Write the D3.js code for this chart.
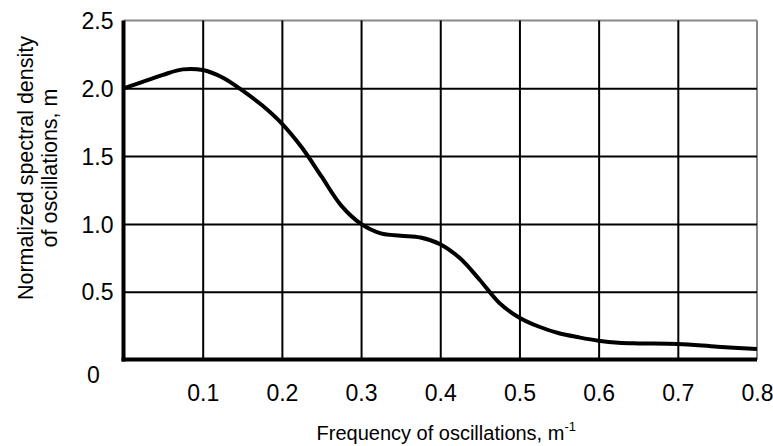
<!DOCTYPE html>
<html>
<head>
<meta charset="utf-8">
<script src="https://cdn.jsdelivr.net/npm/d3@7"></script>
<style>
  body { margin: 0; background: #fff; }
  svg text { font-family: "Liberation Sans", Arial, sans-serif; fill: #000; }
</style>
</head>
<body>
<svg id="chart" width="773" height="446"></svg>
<script>
// --- Data ---
const frequency = [0, 0.025, 0.05, 0.075, 0.1, 0.125, 0.15, 0.175, 0.2, 0.225, 0.25, 0.275,
  0.3, 0.325, 0.35, 0.375, 0.4, 0.425, 0.45, 0.475, 0.5, 0.525, 0.55, 0.575, 0.6, 0.625,
  0.65, 0.7, 0.75, 0.8];
const density = [2.0, 2.05, 2.10, 2.14, 2.135, 2.08, 1.985, 1.875, 1.74, 1.565, 1.35, 1.135,
  1.0, 0.93, 0.913, 0.90, 0.85, 0.746, 0.586, 0.414, 0.308, 0.241, 0.193, 0.163, 0.138, 0.123,
  0.118, 0.114, 0.094, 0.077];
const xTicks = [0.1, 0.2, 0.3, 0.4, 0.5, 0.6, 0.7, 0.8];
const yTicks = [0.5, 1.0, 1.5, 2.0, 2.5];
const xTitle = "Frequency of oscillations, m";
const yTitle = ["Normalized spectral density", "of oscillations, m"];

// --- Layout ---
const margin = { top: 20.6, right: 16, bottom: 86.6, left: 123.5 };
const width = 773 - margin.left - margin.right;
const height = 446 - margin.top - margin.bottom;

const svg = d3.select("#chart");
const g = svg.append("g").attr("transform", `translate(${margin.left},${margin.top})`);

const x = d3.scaleLinear().domain([0, 0.8]).range([0, width]);
const y = d3.scaleLinear().domain([0, 2.5]).range([height, 0]);

// frame: grey top/right
g.append("line").attr("x1", 0).attr("x2", width).attr("y1", 0).attr("y2", 0)
  .attr("stroke", "#888").attr("stroke-width", 2);
g.append("line").attr("x1", width).attr("x2", width).attr("y1", 0).attr("y2", height)
  .attr("stroke", "#888").attr("stroke-width", 2);

// --- Grid + x axis ---
const xAxis = g.append("g")
  .attr("transform", `translate(0,${height})`)
  .call(d3.axisBottom(x).tickValues(xTicks).tickFormat(d3.format(".1f"))
    .tickSize(-height).tickPadding(0));
xAxis.attr("font-family", null);
xAxis.select(".domain").remove();
xAxis.selectAll(".tick line").attr("stroke", "#000").attr("stroke-width", 2)
  .filter(d => d === 0.8).remove();
xAxis.selectAll(".tick text")
  .attr("y", 42).attr("dy", 0)
  .style("font-size", "23px");

// --- Grid + y axis ---
const yAxis = g.append("g")
  .call(d3.axisLeft(y).tickValues(yTicks).tickFormat(d3.format(".1f"))
    .tickSize(-width).tickPadding(10));
yAxis.attr("font-family", null);
yAxis.select(".domain").remove();
yAxis.selectAll(".tick line").attr("stroke", "#000").attr("stroke-width", 2)
  .filter(d => d === 2.5).remove();
yAxis.selectAll(".tick text").attr("dy", "0.36em")
  .style("font-size", "23px");

// zero label, set apart below the corner
g.append("text")
  .attr("x", -30).attr("y", height + 24)
  .attr("text-anchor", "middle")
  .style("font-size", "23px")
  .text("0");

// thick left/bottom axes
g.append("line").attr("x1", 0).attr("x2", 0).attr("y1", 0).attr("y2", height + 2)
  .attr("stroke", "#000").attr("stroke-width", 4);
g.append("line").attr("x1", -2).attr("x2", width).attr("y1", height).attr("y2", height)
  .attr("stroke", "#000").attr("stroke-width", 4);

// --- Curve ---
const line = d3.line()
  .x((d, i) => x(frequency[i]))
  .y(d => y(d))
  .curve(d3.curveCatmullRom.alpha(0.5));

g.append("path")
  .datum(density)
  .attr("d", line)
  .attr("fill", "none")
  .attr("stroke", "#000")
  .attr("stroke-width", 4)
  .attr("stroke-linejoin", "round");

// --- Axis titles ---
const xt = svg.append("text")
  .attr("x", margin.left + width / 2 + 6)
  .attr("y", 440)
  .attr("text-anchor", "middle")
  .style("font-size", "20px");
xt.append("tspan").text(xTitle);
xt.append("tspan").attr("dy", -9).style("font-size", "13px").text("-1");

const yt = svg.append("text")
  .attr("transform", "translate(33,168) rotate(-90)")
  .attr("text-anchor", "middle")
  .style("font-size", "21.5px");
yTitle.forEach((t, i) => {
  yt.append("tspan").attr("x", 0).attr("y", i * 24).text(t);
});
</script>
</body>
</html>
